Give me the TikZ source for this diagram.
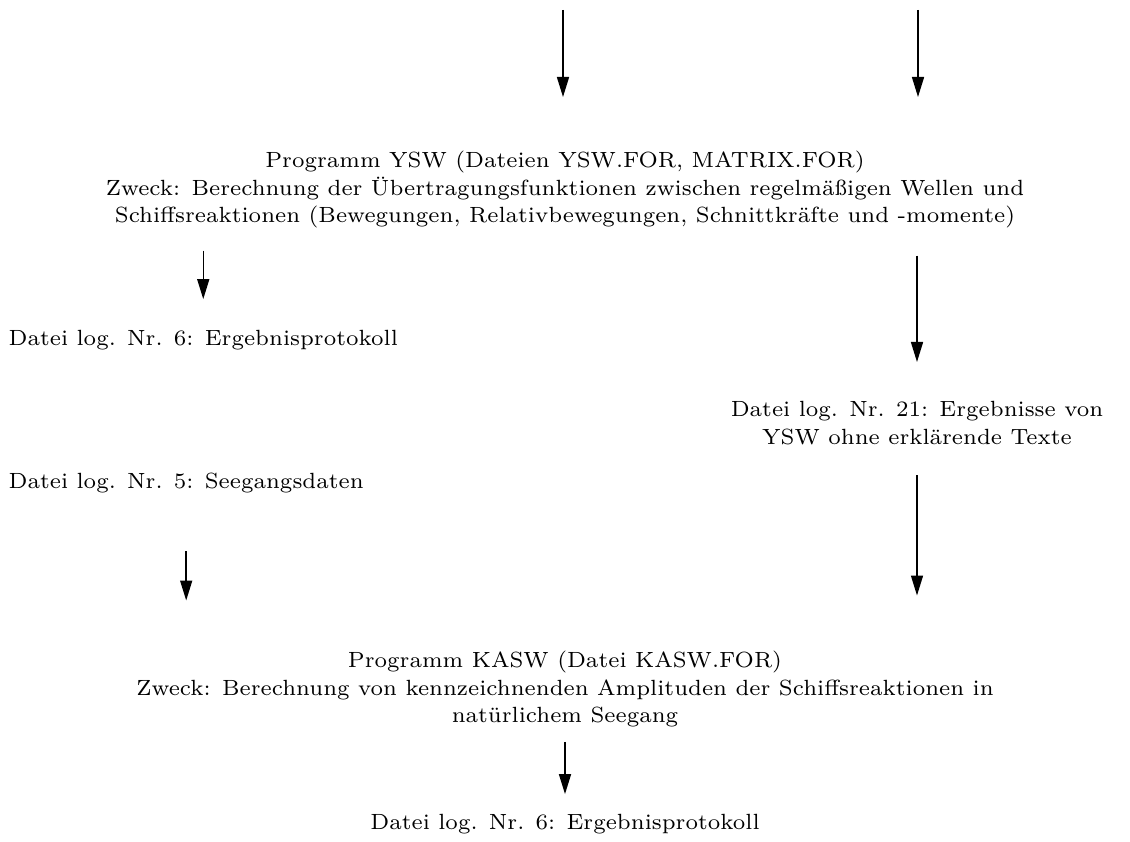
\documentclass[tikz,border=0pt]{standalone}
\usetikzlibrary{arrows.meta}
\begin{document}
\begin{tikzpicture}[x=1pt,y=-1pt,
  txt/.style={inner sep=0pt,font=\fontsize{7}{8.75}\selectfont,align=center,scale=3.142857,transform shape},
  arr/.style={line width=1.5pt,-{Triangle[length=20pt,width=12pt]}}]
\useasboundingbox (0,0) rectangle (1130,842);
% top free starts
\coordinate (t1) at (563,10);
\coordinate (t2) at (918,10);
% nodes
\node[txt,anchor=north] (ysw) at (565,150.5) {Programm YSW (Dateien YSW.FOR, MATRIX.FOR)\\
Zweck: Berechnung der Übertragungsfunktionen zwischen regelmäßigen Wellen und\\
Schiffsreaktionen (Bewegungen, Relativbewegungen, Schnittkräfte und -momente)};
\node[txt,anchor=base west] (out6) at (8,345) {Datei log. Nr. 6: Ergebnisprotokoll};
\node[txt,anchor=north] (nr21) at (917,401) {Datei log. Nr. 21: Ergebnisse von\\
YSW ohne erklärende Texte};
\node[txt,anchor=base west] (nr5) at (8,488) {Datei log. Nr. 5: Seegangsdaten};
\node[txt,anchor=north] (kasw) at (565,650.5) {Programm KASW (Datei KASW.FOR)\\
Zweck: Berechnung von kennzeichnenden Amplituden der Schiffsreaktionen in\\
natürlichem Seegang};
\node[txt,anchor=base] (fin) at (565,829) {Datei log. Nr. 6: Ergebnisprotokoll};
% connectors
\draw[arr,shorten >=53.5pt] (t1) -- (t1 |- ysw.north);
\draw[arr,shorten >=53.5pt] (t2) -- (t2 |- ysw.north);
\draw[arr,shorten <=22pt,shorten >=30pt] (out6.north |- ysw.south) -- (out6.north);
\draw[arr,shorten <=27pt,shorten >=39pt] (nr21.north |- ysw.south) -- (nr21.north);
\draw[arr,shorten <=30pt,shorten >=55pt] (nr21.south) -- (nr21.south |- kasw.north);
\draw[arr,shorten <=58pt,shorten >=50pt] (nr5.south) -- (nr5.south |- kasw.north);
\draw[arr,shorten <=14pt,shorten >=19pt] (kasw.south) -- (fin.north);
\end{tikzpicture}
\end{document}
